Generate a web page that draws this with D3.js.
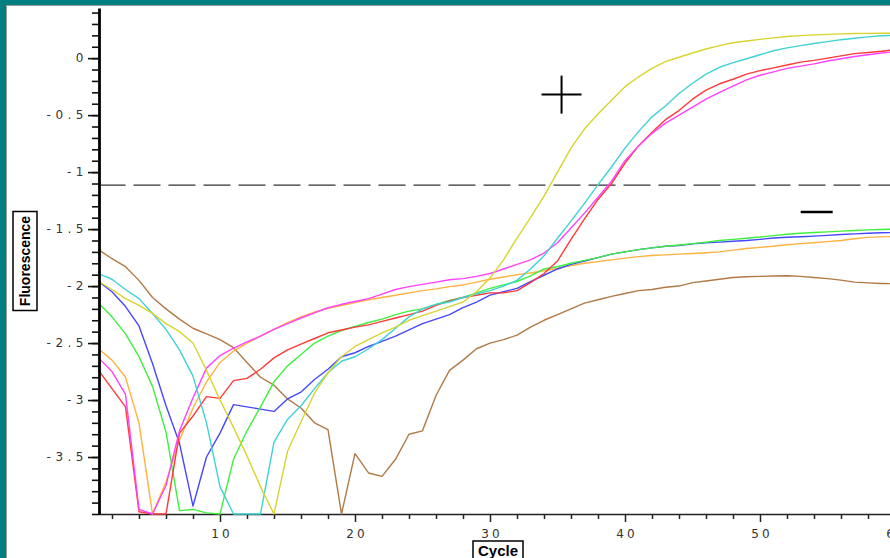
<!DOCTYPE html>
<html>
<head>
<meta charset="utf-8">
<script src="https://cdn.jsdelivr.net/npm/d3@7"></script>
<style>
  body { margin: 0; background: #fff; }
  .tick text { font-family: "DejaVu Sans", sans-serif; fill: #333; }
  .axisText { font-family: "Liberation Sans", Arial, sans-serif; font-weight: bold; fill: #000; }
</style>
</head>
<body>
<div id="chart"></div>
<script>
// Data (cycle vs fluorescence)
// ============================================================
var cycles = [1, 2, 3, 4, 5, 6, 7, 8, 9, 10, 11, 12, 13, 14, 15, 16, 17, 18, 19, 20,
  21, 22, 23, 24, 25, 26, 27, 28, 29, 30, 31, 32, 33, 34, 35, 36, 37, 38, 39, 40,
  41, 42, 43, 44, 45, 46, 47, 48, 49, 50, 51, 52, 53, 54, 55, 56, 57, 58, 59, 60];

var brown = [-1.68, -1.76, -1.83, -1.95, -2.10, -2.20, -2.29, -2.37, -2.42, -2.47,
  -2.54, -2.67, -2.80, -2.87, -2.99, -3.07, -3.20, -3.26, -4.00, -3.47,
  -3.64, -3.67, -3.52, -3.30, -3.27, -2.96, -2.74, -2.65, -2.55, -2.50,
  -2.47, -2.43, -2.36, -2.30, -2.25, -2.20, -2.15, -2.12, -2.09, -2.065,
  -2.04, -2.03, -2.01, -2.00, -1.97, -1.955, -1.94, -1.925, -1.918, -1.915,
  -1.912, -1.91, -1.915, -1.925, -1.935, -1.948, -1.965, -1.972, -1.977, -1.98];

var orange = [-2.55, -2.65, -2.80, -3.20, -4.00, -3.72, -3.35, -3.07, -2.84, -2.67,
  -2.57, -2.50, -2.44, -2.38, -2.32, -2.27, -2.23, -2.195, -2.17, -2.145,
  -2.12, -2.10, -2.08, -2.06, -2.04, -2.025, -2.005, -1.99, -1.965, -1.94,
  -1.92, -1.90, -1.885, -1.865, -1.845, -1.82, -1.80, -1.785, -1.77, -1.755,
  -1.742, -1.732, -1.726, -1.72, -1.714, -1.708, -1.70, -1.685, -1.67, -1.66,
  -1.65, -1.638, -1.628, -1.62, -1.61, -1.60, -1.585, -1.573, -1.568, -1.565];

var blue = [-1.96, -2.05, -2.18, -2.35, -2.68, -3.05, -3.38, -3.93, -3.50, -3.29,
  -3.04, -3.06, -3.08, -3.10, -2.99, -2.93, -2.82, -2.73, -2.62, -2.585,
  -2.53, -2.485, -2.44, -2.385, -2.33, -2.29, -2.25, -2.19, -2.14, -2.08,
  -2.05, -2.02, -1.96, -1.905, -1.85, -1.81, -1.78, -1.75, -1.72, -1.70,
  -1.68, -1.665, -1.65, -1.645, -1.63, -1.62, -1.614, -1.607, -1.60, -1.59,
  -1.578, -1.572, -1.567, -1.562, -1.555, -1.548, -1.542, -1.537, -1.532, -1.53];

var green = [-2.15, -2.27, -2.42, -2.62, -2.88, -3.28, -3.97, -3.96, -3.99, -4.00,
  -3.52, -3.27, -3.06, -2.84, -2.70, -2.60, -2.50, -2.44, -2.39, -2.355,
  -2.32, -2.29, -2.25, -2.22, -2.20, -2.16, -2.125, -2.10, -2.06, -2.02,
  -1.99, -1.96, -1.91, -1.85, -1.83, -1.80, -1.775, -1.75, -1.72, -1.70,
  -1.68, -1.665, -1.65, -1.64, -1.628, -1.615, -1.60, -1.59, -1.58, -1.57,
  -1.557, -1.545, -1.537, -1.53, -1.524, -1.518, -1.512, -1.507, -1.503, -1.50];

var red = [-2.74, -2.90, -3.06, -3.98, -4.00, -4.00, -3.29, -3.14, -2.97, -2.985,
  -2.83, -2.81, -2.73, -2.63, -2.56, -2.51, -2.46, -2.41, -2.385, -2.36,
  -2.34, -2.31, -2.28, -2.25, -2.22, -2.17, -2.13, -2.10, -2.08, -2.06,
  -2.06, -2.04, -1.97, -1.89, -1.78, -1.59, -1.41, -1.24, -1.10, -0.92,
  -0.77, -0.65, -0.54, -0.46, -0.36, -0.28, -0.225, -0.185, -0.14, -0.11,
  -0.085, -0.06, -0.035, -0.02, 0.0, 0.02, 0.04, 0.05, 0.06, 0.075];

var magenta = [-2.63, -2.75, -2.95, -3.96, -4.00, -3.75, -3.27, -2.98, -2.72, -2.61,
  -2.545, -2.49, -2.44, -2.38, -2.33, -2.28, -2.235, -2.19, -2.16, -2.135,
  -2.11, -2.07, -2.03, -2.005, -1.985, -1.965, -1.945, -1.935, -1.915, -1.89,
  -1.85, -1.81, -1.77, -1.71, -1.62, -1.49, -1.36, -1.22, -1.08, -0.90,
  -0.77, -0.66, -0.57, -0.50, -0.43, -0.36, -0.30, -0.245, -0.19, -0.15,
  -0.12, -0.09, -0.07, -0.05, -0.025, -0.005, 0.015, 0.03, 0.045, 0.058];

var cyan = [-1.89, -1.94, -2.03, -2.11, -2.24, -2.38, -2.56, -2.79, -3.20, -3.76,
  -4.00, -4.00, -4.00, -3.37, -3.17, -3.05, -2.90, -2.76, -2.66, -2.62,
  -2.55, -2.47, -2.37, -2.27, -2.20, -2.16, -2.14, -2.10, -2.07, -2.04,
  -2.00, -1.95, -1.85, -1.735, -1.58, -1.43, -1.275, -1.11, -0.955, -0.79,
  -0.645, -0.515, -0.42, -0.31, -0.22, -0.14, -0.08, -0.04, -0.005, 0.03,
  0.065, 0.09, 0.11, 0.128, 0.145, 0.162, 0.175, 0.187, 0.196, 0.20];

var yellow = [-1.96, -2.03, -2.11, -2.17, -2.24, -2.33, -2.40, -2.50, -2.74, -3.00,
  -3.24, -3.49, -3.76, -4.00, -3.45, -3.19, -2.94, -2.76, -2.62, -2.53,
  -2.47, -2.41, -2.36, -2.30, -2.26, -2.22, -2.18, -2.14, -2.05, -1.93,
  -1.77, -1.58, -1.40, -1.21, -1.00, -0.79, -0.62, -0.49, -0.37, -0.25,
  -0.165, -0.09, -0.03, 0.008, 0.045, 0.08, 0.11, 0.135, 0.15, 0.165,
  0.178, 0.19, 0.198, 0.204, 0.209, 0.213, 0.216, 0.217, 0.218, 0.218];

var series = [
  {name: "brown", values: brown, color: "#b07a46"},
  {name: "orange", values: orange, color: "#ffb23e"},
  {name: "blue", values: blue, color: "#4747ff"},
  {name: "green", values: green, color: "#3ef03e"},
  {name: "red", values: red, color: "#ff3a3a"},
  {name: "magenta", values: magenta, color: "#ff42ff"},
  {name: "cyan", values: cyan, color: "#3fd2d6"},
  {name: "yellow", values: yellow, color: "#d8d42e"}
];

var threshold = -1.114;
var yMajorTicks = [0, -0.5, -1, -1.5, -2, -2.5, -3, -3.5];
var xMajorTicks = [10, 20, 30, 40, 50, 60];
var marks = [{label: "+", cycle: 35.3, value: -0.32}, {label: "-", cycle: 54.2, value: -1.351}];

var svgWidth = 890;
var svgHeight = 558;

var svg = d3.select("#chart")
  .append("svg")
  .attr("width", svgWidth)
  .attr("height", svgHeight)
  .style("display", "block");

// window frame (teal strip on left and top)
svg.append("rect").attr("x", 0).attr("y", 0).attr("width", svgWidth).attr("height", 5).attr("fill", "#008080");
svg.append("rect").attr("x", 0).attr("y", 0).attr("width", 6).attr("height", svgHeight).attr("fill", "#008080");
svg.append("line").attr("x1", 6.5).attr("x2", 6.5).attr("y1", 5).attr("y2", svgHeight).attr("stroke", "#9a9a9a");
svg.append("line").attr("x1", 6).attr("x2", svgWidth).attr("y1", 5.5).attr("y2", 5.5).attr("stroke", "#9a9a9a");

// Scales
// ==============================
var xScale = d3.scaleLinear().domain([1, 60]).range([98.5, 895]);
var yScale = d3.scaleLinear().domain([-4, 0.44]).range([514, 8]);

// X axis: minor ticks every 2 cycles, labelled ticks every 10
// ==============================
var xMinor = cycles.filter(c => c % 2 === 0 && c % 10 !== 0);

var xMinorAxis = svg.append("g")
  .attr("transform", "translate(0, 514)")
  .call(d3.axisBottom(xScale).tickValues(xMinor).tickSize(5).tickSizeOuter(0).tickFormat(""));
xMinorAxis.select(".domain").attr("stroke", "#222").attr("stroke-width", 1.6);
xMinorAxis.selectAll(".tick line").attr("stroke", "#222").attr("stroke-width", 1.5);

var xMajorAxis = svg.append("g")
  .attr("transform", "translate(0, 514)")
  .call(d3.axisBottom(xScale).tickValues(xMajorTicks).tickSize(8).tickPadding(7));
xMajorAxis.select(".domain").remove();
xMajorAxis.selectAll(".tick line").attr("stroke", "#222").attr("stroke-width", 1.5);
xMajorAxis.selectAll(".tick text")
  .attr("font-size", "12px")
  .attr("letter-spacing", "3px")
  .attr("dx", "1.5px");

// Threshold line
svg.append("line")
  .attr("x1", xScale(1))
  .attr("x2", svgWidth)
  .attr("y1", yScale(threshold))
  .attr("y2", yScale(threshold))
  .attr("stroke", "#333")
  .attr("stroke-width", 1.3)
  .attr("stroke-dasharray", "27,8");

// Curves
// ==============================
var line = d3.line()
  .x((d, i) => xScale(cycles[i]))
  .y(d => yScale(d));

svg.append("g")
  .selectAll("path")
  .data(series)
  .enter()
  .append("path")
  .attr("d", d => line(d.values))
  .attr("fill", "none")
  .attr("stroke", d => d.color)
  .attr("stroke-width", 1.4)
  .attr("stroke-linejoin", "round");

// Y axis: minor ticks every 0.1, labels every 0.5
// ==============================
var yMinor = d3.range(-40, 5).map(k => k / 10);

var yMinorAxis = svg.append("g")
  .attr("transform", "translate(99, 0)")
  .call(d3.axisLeft(yScale).tickValues(yMinor).tickSize(7).tickSizeOuter(0).tickFormat(""));
yMinorAxis.select(".domain").attr("stroke", "#000").attr("stroke-width", 2.8);
yMinorAxis.selectAll(".tick line").attr("stroke", "#111").attr("stroke-width", 1.6);

var yMajorAxis = svg.append("g")
  .attr("transform", "translate(99, 0)")
  .call(d3.axisLeft(yScale).tickValues(yMajorTicks).tickSize(11).tickPadding(0).tickFormat(d => String(d)));
yMajorAxis.select(".domain").remove();
yMajorAxis.selectAll(".tick line").attr("stroke", "#111").attr("stroke-width", 1.6);
yMajorAxis.selectAll(".tick text")
  .attr("font-size", "12px")
  .attr("letter-spacing", "4.5px");

// + and - annotations
// ==============================
marks.forEach(function(m) {
  var cx = xScale(m.cycle), cy = yScale(m.value);
  if (m.label === "+") {
    svg.append("line").attr("x1", cx - 20).attr("x2", cx + 20).attr("y1", cy).attr("y2", cy)
      .attr("stroke", "#000").attr("stroke-width", 2);
    svg.append("line").attr("x1", cx).attr("x2", cx).attr("y1", cy - 19).attr("y2", cy + 19)
      .attr("stroke", "#000").attr("stroke-width", 2);
  } else {
    svg.append("line").attr("x1", cx - 16).attr("x2", cx + 16).attr("y1", cy).attr("y2", cy)
      .attr("stroke", "#000").attr("stroke-width", 2.5);
  }
});

// Axis titles in boxes
// ==============================
var yTitle = svg.append("g").attr("transform", "translate(25, 261) rotate(-90)");
yTitle.append("rect")
  .attr("x", -49.5).attr("y", -12).attr("width", 99).attr("height", 24)
  .attr("fill", "#fff").attr("stroke", "#000").attr("stroke-width", 1.5);
yTitle.append("text")
  .attr("class", "axisText")
  .attr("text-anchor", "middle")
  .attr("dy", "0.36em")
  .attr("font-size", "14px")
  .text("Fluorescence");

var xTitle = svg.append("g").attr("transform", "translate(498, 551)");
xTitle.append("rect")
  .attr("x", -25).attr("y", -10).attr("width", 50).attr("height", 22)
  .attr("fill", "#fff").attr("stroke", "#000").attr("stroke-width", 1.5);
xTitle.append("text")
  .attr("class", "axisText")
  .attr("text-anchor", "middle")
  .attr("dy", "0.36em")
  .attr("font-size", "15px")
  .text("Cycle");
</script>
</body>
</html>
